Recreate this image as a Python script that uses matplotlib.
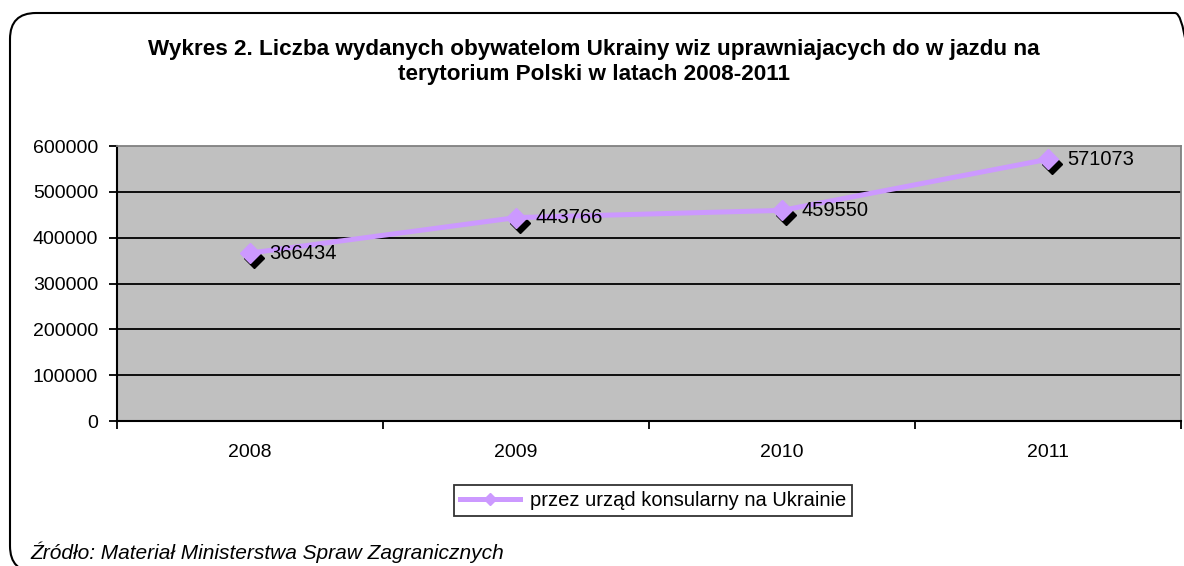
import matplotlib
matplotlib.use("Agg")
import matplotlib.pyplot as plt
import matplotlib.transforms as mtransforms
from matplotlib.patches import FancyBboxPatch
from matplotlib.lines import Line2D

plt.rcParams['font.family'] = ['Liberation Sans', 'DejaVu Sans']

years = ["2008", "2009", "2010", "2011"]
values = [366434, 443766, 459550, 571073]
series_name = "przez urząd konsularny na Ukrainie"
title = ("Wykres 2. Liczba wydanych obywatelom Ukrainy wiz uprawniajacych do w jazdu na\n"
         "terytorium Polski w latach 2008-2011")
source = "Źródło: Materiał Ministerstwa Spraw Zagranicznych"
yticks = [0, 100000, 200000, 300000, 400000, 500000, 600000]

W, H = 1184, 566
fig = plt.figure(figsize=(W / 100, H / 100), dpi=100)
fig.patch.set_facecolor("white")

# rounded outer frame (pixel coordinates)
frame = FancyBboxPatch((10, -6), 1191, 559, boxstyle="round,pad=0,rounding_size=26",
                       transform=mtransforms.IdentityTransform(), fill=False,
                       edgecolor="black", linewidth=1.5)
fig.patches.append(frame)

L, R, T, B = 117, 1181, 146, 421
ax = fig.add_axes([L / W, (H - B) / H, (R - L) / W, (B - T) / H])
ax.set_facecolor("#C0C0C0")

x = list(range(len(years)))
ax.set_xlim(-0.5, len(years) - 0.5)
ax.set_ylim(0, 600000)

for yv in yticks[1:-1]:
    ax.axhline(yv, color="black", lw=1.3, zorder=1)

color = "#CC99FF"
ax.plot(x, values, color=color, lw=3.6, zorder=3, solid_capstyle="butt")
shadow = mtransforms.offset_copy(ax.transData, fig=fig, x=3.5, y=-5, units="dots")
ax.plot(x, values, linestyle="none", marker="D", markersize=10.5, color="black",
        transform=shadow, zorder=2.5)
ax.plot(x, values, linestyle="none", marker="D", markersize=10.5, color=color,
        markeredgecolor=color, zorder=4)

for xi, v in zip(x, values):
    ax.annotate(str(v), (xi, v), xytext=(19, 0), textcoords="offset pixels",
                va="center", ha="left", fontsize=14.5, color="black", zorder=5)

ax.set_yticks(yticks)
ax.set_yticklabels([str(t) for t in yticks], fontsize=14)
ax.set_xticks([i + 0.5 for i in range(-1, len(years))])
ax.set_xticklabels([])
ax.tick_params(axis="y", direction="out", length=6, width=1.3, pad=7.5)
ax.tick_params(axis="x", direction="out", length=6, width=1.3)
for xi, yr in zip(x, years):
    ax.text(xi, -0.115, yr, transform=ax.get_xaxis_transform(), ha="center",
            va="center", fontsize=14)

ax.spines["left"].set_color("black")
ax.spines["bottom"].set_color("black")
ax.spines["left"].set_linewidth(1.5)
ax.spines["bottom"].set_linewidth(1.5)
ax.spines["top"].set_color("#808080")
ax.spines["right"].set_color("#808080")
ax.spines["top"].set_linewidth(1.3)
ax.spines["right"].set_linewidth(1.3)

fig.text(594 / W, 1 - 62 / H, title, ha="center", va="center", fontsize=16.2,
         fontweight="bold", linespacing=1.3)

handle = Line2D([], [], color=color, lw=3.6, marker="D", markersize=6,
                markerfacecolor=color, markeredgecolor=color)
leg = fig.legend([handle], [series_name], loc="center",
                 bbox_to_anchor=(653 / W, 1 - 500.5 / H), fontsize=14.5,
                 frameon=True, fancybox=False, handlelength=3.0,
                 borderpad=0.3, handletextpad=0.5)
leg.get_frame().set_edgecolor("black")
leg.get_frame().set_linewidth(1.3)

fig.text(30 / W, 1 - 552 / H, source, ha="left", va="center", fontsize=15,
         style="italic")

fig.savefig("out.png", dpi=100)
